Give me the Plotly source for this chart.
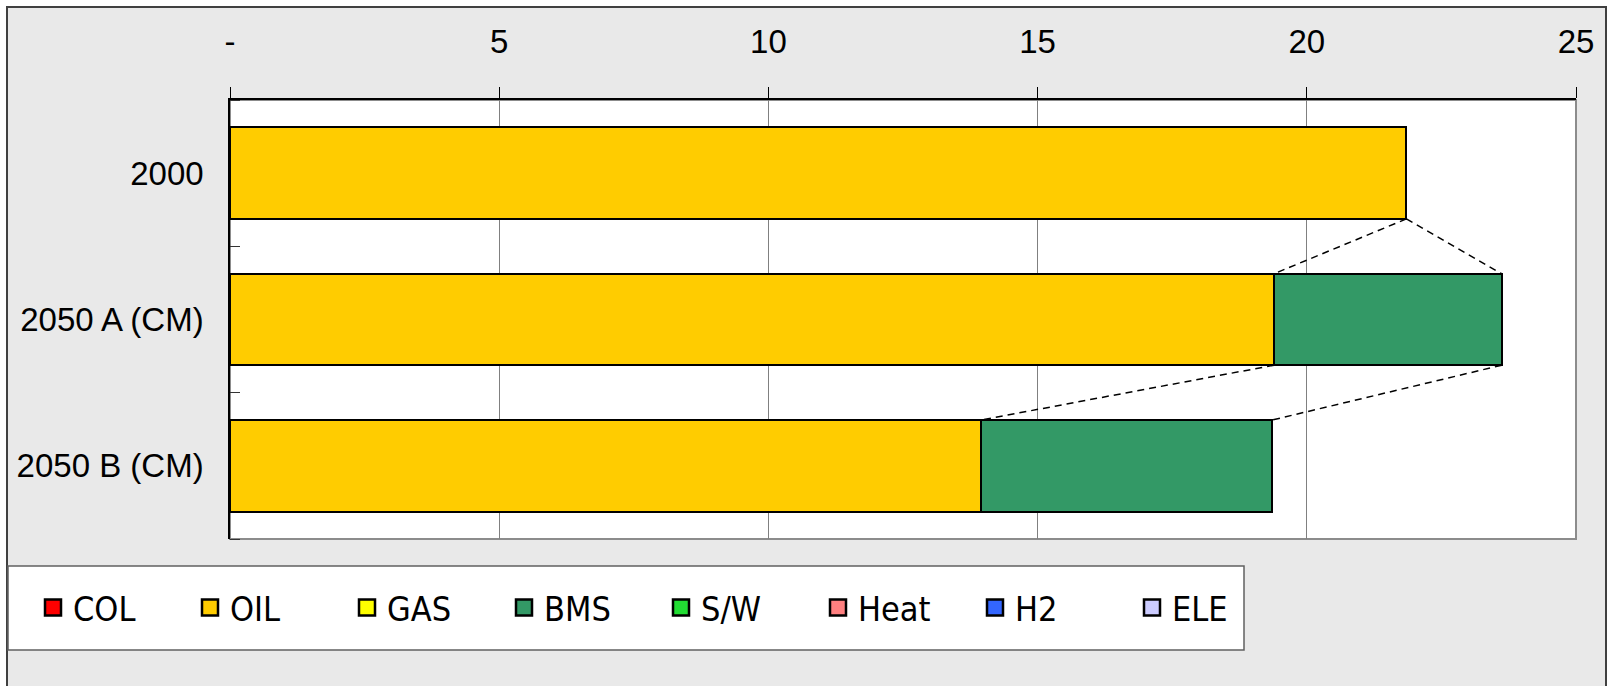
import numpy as np
import plotly.graph_objects as go

categories = ["2000", "2050 A (CM)", "2050 B (CM)"]
col = [0, 0, 0]
oil = [21.85, 19.39, 13.94]
gas = [0, 0, 0]
bms = [0, 4.23, 5.41]
sw = [0, 0, 0]
heat = [0, 0, 0]
h2 = [0, 0, 0]
ele = [0, 0, 0]
x_ticks = [0, 5, 10, 15, 20, 25]
x_tick_labels = ["-", "5", "10", "15", "20", "25"]

series = [
    ("COL", col, "#FF0000"),
    ("OIL", oil, "#FFCC00"),
    ("GAS", gas, "#FFFF00"),
    ("BMS", bms, "#339966"),
    ("S/W", sw, "#22DD33"),
    ("Heat", heat, "#FF8080"),
    ("H2", h2, "#3366FF"),
    ("ELE", ele, "#CCCCFF"),
]

W, H = 1609, 686
ML, MR, MT, MB = 230, 33, 100, 147
PW, PH = W - ML - MR, H - MT - MB


def px(x):
    return (x - ML) / PW


def py(y):
    return (H - MB - y) / PH


BAR_W = 0.625
ypos = np.arange(len(categories))

fig = go.Figure()

for name, vals, color in series:
    fig.add_trace(go.Bar(
        y=ypos, x=vals, name=name, orientation="h", width=BAR_W,
        marker=dict(color=color, line=dict(color="black", width=2)),
        showlegend=False, legendgroup=name,
    ))

# series lines (dashed connectors between stacked segment ends)
cum = np.cumsum(np.array([s[1] for s in series], dtype=float), axis=0)
for k in [1, 3]:
    for i in range(len(categories) - 1):
        fig.add_trace(go.Scatter(
            x=[cum[k][i], cum[k][i + 1]],
            y=[ypos[i] + BAR_W / 2, ypos[i + 1] - BAR_W / 2],
            mode="lines", showlegend=False, hoverinfo="skip",
            line=dict(color="black", width=1.5, dash="7px,5px"),
        ))

# legend entries with bigger square keys, like the Excel legend
for name, vals, color in series:
    fig.add_trace(go.Scatter(
        x=[None], y=[None], mode="markers", name=name, legendgroup=name,
        marker=dict(symbol="square", size=16, color=color, line=dict(color="black", width=2.5)),
    ))

shapes = [
    # chart area with border
    dict(type="rect", xref="paper", yref="paper", layer="below",
         x0=px(7), x1=px(1606), y0=py(7), y1=py(740),
         fillcolor="#E9E9E9", line=dict(color="#404040", width=2)),
    # plot area
    dict(type="rect", xref="paper", yref="paper", layer="below",
         x0=0, x1=1, y0=0, y1=1,
         fillcolor="white", line=dict(color="#8C8C8C", width=2)),
    # legend box
    dict(type="rect", xref="paper", yref="paper", layer="below",
         x0=px(8), x1=px(1244), y0=py(566), y1=py(650),
         fillcolor="white", line=dict(color="#606060", width=1.5)),
]

fig.update_layout(
    width=W, height=H, autosize=False,
    barmode="stack",
    margin=dict(l=ML, r=MR, t=MT, b=MB),
    paper_bgcolor="white",
    plot_bgcolor="rgba(0,0,0,0)",
    font=dict(family="Liberation Sans, Arial, sans-serif", size=33, color="black"),
    shapes=shapes,
    showlegend=True,
    legend=dict(
        orientation="h", x=px(33), xanchor="left", y=py(608), yanchor="middle",
        bgcolor="rgba(0,0,0,0)", borderwidth=0,
        font=dict(family="DejaVu Sans Condensed, DejaVu Sans, sans-serif", size=34),
        entrywidth=112, entrywidthmode="pixels", traceorder="normal",
    ),
    xaxis=dict(
        side="top", range=[0, 25], tickmode="array", tickvals=x_ticks, ticktext=x_tick_labels,
        ticks="outside", ticklen=11, tickcolor="black", tickwidth=1,
        showgrid=True, gridcolor="#808080", gridwidth=1,
        showline=True, linecolor="black", linewidth=1.5, zeroline=False,
        ticklabelstandoff=21, fixedrange=True,
    ),
    yaxis=dict(
        range=[2.5, -0.5], tickmode="array", tickvals=ypos, ticktext=categories,
        ticks="", showgrid=False, zeroline=False,
        showline=True, linecolor="black", linewidth=1.5,
        ticklabelstandoff=18, fixedrange=True,
        minor=dict(tickmode="array", tickvals=[-0.5, 0.5, 1.5, 2.5], ticks="inside",
                   ticklen=10, tickcolor="#333333", tickwidth=1, showgrid=False),
    ),
)

# drop the page's default body margin so the figure sits at the window origin
fig.write_html("out.html", config={"displayModeBar": False},
               post_script="document.body.style.margin='0';")
